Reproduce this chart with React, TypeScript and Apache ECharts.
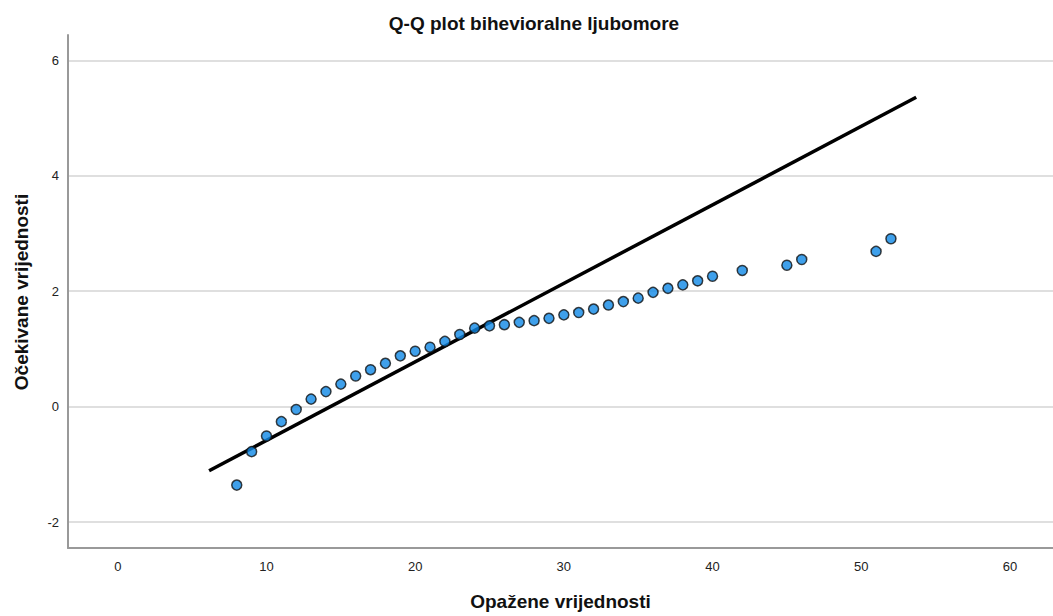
import React, { useEffect, useRef } from "react";
import * as echarts from "echarts";

const observed = [8, 9, 10, 11, 12, 13, 14, 15, 16, 17, 18, 19, 20, 21, 22, 23, 24, 25, 26, 27, 28, 29, 30, 31, 32, 33, 34, 35, 36, 37, 38, 39, 40, 42, 45, 46, 51, 52];
const expected = [-1.36, -0.78, -0.51, -0.26, -0.05, 0.13, 0.26, 0.39, 0.53, 0.64, 0.75, 0.88, 0.96, 1.03, 1.13, 1.25, 1.36, 1.40, 1.42, 1.46, 1.49, 1.53, 1.59, 1.63, 1.69, 1.76, 1.82, 1.88, 1.98, 2.05, 2.11, 2.18, 2.26, 2.36, 2.45, 2.55, 2.69, 2.91];
const refLineX = [6.14, 53.7];
const refLineY = [-1.11, 5.36];
const xTicks = [0, 10, 20, 30, 40, 50, 60];
const yTicks = [-2, 0, 2, 4, 6];

const FONT = "'Liberation Sans', Arial, sans-serif";

export default function App() {
  const ref = useRef<HTMLDivElement>(null);
  useEffect(() => {
    document.body.style.margin = "0";
    document.body.style.overflow = "hidden";
    if (!ref.current) return;
    const chart = echarts.init(ref.current, undefined, { renderer: "svg" });
    chart.setOption({
      animation: false,
      backgroundColor: "#ffffff",
      title: {
        text: "Q-Q plot bihevioralne ljubomore",
        left: 529,
        textAlign: "center",
        top: 9,
        textStyle: { fontFamily: FONT, fontSize: 19, fontWeight: "bold", color: "#111" },
      },
      graphic: [
        {
          type: "text",
          x: 21,
          y: 292,
          rotation: Math.PI / 2,
          style: {
            text: "Očekivane vrijednosti",
            fontFamily: FONT,
            fontSize: 19,
            fontWeight: "bold",
            fill: "#111",
            align: "center",
            verticalAlign: "middle",
          },
        },
      ],
      grid: { left: 68, top: 35, right: 0, bottom: 67, containLabel: false },
      xAxis: {
        type: "value",
        min: -3.35,
        max: 62.9,
        name: "Opažene vrijednosti",
        nameLocation: "middle",
        nameGap: 44,
        nameTextStyle: { fontFamily: FONT, fontSize: 19, fontWeight: "bold", color: "#111" },
        axisLine: { show: true, onZero: false, lineStyle: { color: "#999", width: 2 } },
        axisTick: { show: false, customValues: xTicks },
        axisLabel: { customValues: xTicks, margin: 12, fontFamily: FONT, fontSize: 13, color: "#222" },
        splitLine: { show: false },
      },
      yAxis: {
        type: "value",
        min: -2.45,
        max: 6.44,
        axisLine: { show: true, onZero: false, lineStyle: { color: "#999", width: 2 } },
        axisTick: { show: false, customValues: yTicks },
        axisLabel: { customValues: yTicks, margin: 9, fontFamily: FONT, fontSize: 13, color: "#222" },
        splitLine: { show: true, lineStyle: { color: "#d4d4d4", width: 1.5 } },
      },
      series: [
        {
          type: "line",
          data: refLineX.map((x, i) => [x, refLineY[i]]),
          showSymbol: false,
          symbol: "none",
          lineStyle: { color: "#000", width: 3.5 },
          z: 2,
        },
        {
          type: "scatter",
          data: observed.map((x, i) => [x, expected[i]]),
          symbol: "circle",
          symbolSize: 10,
          itemStyle: { color: "#0f88e6", borderColor: "#111", borderWidth: 1.5 },
          z: 3,
        },
      ],
    });
    return () => chart.dispose();
  }, []);
  return <div ref={ref} style={{ position: "fixed", left: 0, top: 0, width: 1053, height: 616 }} />;
}
